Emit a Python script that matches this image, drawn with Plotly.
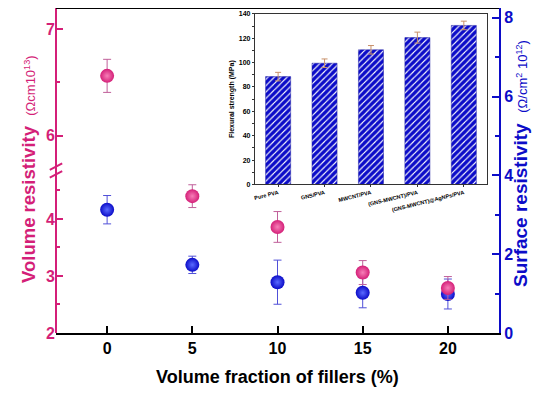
import plotly.graph_objects as go

# ---- data ----
fraction = [0, 5, 10, 15, 20]
vol_res = [6.56, 4.40, 3.86, 3.06, 2.79]
vol_err = [0.155, 0.20, 0.27, 0.21, 0.20]
surf_res = [3.13, 1.73, 1.29, 1.02, 0.99]
surf_err = [0.36, 0.22, 0.56, 0.38, 0.38]

inset_cats = ["Pure PVA", "GNS/PVA", "MWCNT/PVA", "(GNS-MWCNT)/PVA", "(GNS-MWCNT)@AgNPs/PVA"]
flex = [88.5, 99.5, 110.5, 120.5, 130.5]
flex_err = [3.5, 3.5, 3.5, 4.5, 3.5]

PINK = "#d41f78"
BLUE = "#0c0cc8"
FONT = "Liberation Sans, Arial, sans-serif"

fig = go.Figure()

fig.add_trace(go.Bar(
    x=inset_cats, y=flex, xaxis="x2", yaxis="y5", width=0.54,
    marker=dict(color=BLUE, line=dict(color="#2020a0", width=0.5),
                pattern=dict(shape="/", fgcolor="white", bgcolor=BLUE, size=4.5, solidity=0.25)),
    error_y=dict(type="data", array=flex_err, color="#c8906a", thickness=1, width=3),
    showlegend=False))

def sphere(color, light):
    return dict(size=14, color=color, line=dict(width=0),
                gradient=dict(type="radial", color=light))

fig.add_trace(go.Scatter(
    x=fraction[:1], y=vol_res[:1], xaxis="x", yaxis="y4", mode="markers",
    marker=sphere(PINK, "#f77fb8"),
    error_y=dict(type="data", array=vol_err[:1], color="#c0609a", thickness=1, width=4),
    showlegend=False))
fig.add_trace(go.Scatter(
    x=fraction[1:], y=vol_res[1:], xaxis="x", yaxis="y3", mode="markers",
    marker=sphere(PINK, "#f77fb8"),
    error_y=dict(type="data", array=vol_err[1:], color="#c0609a", thickness=1, width=4),
    showlegend=False))
fig.add_trace(go.Scatter(
    x=fraction, y=surf_res, xaxis="x", yaxis="y", mode="markers",
    marker=sphere(BLUE, "#5a6aff"),
    error_y=dict(type="data", array=surf_err, color="#5050d8", thickness=1, width=4),
    showlegend=False))

tickfont_l = dict(family=FONT, size=16, color=PINK, weight="bold")

# The page body has an 8px default margin, so the figure is 8px smaller than the window
fig.update_layout(
    template="none",
    width=542, height=385,
    margin=dict(l=48, r=51, t=0, b=60, autoexpand=False),
    paper_bgcolor="white", plot_bgcolor="rgba(0,0,0,0)",
    font=dict(family=FONT),
    xaxis=dict(range=[-3, 23], tickvals=fraction, ticks="inside", ticklen=7, tickwidth=2,
               tickcolor="black",
               showline=True, linecolor="black", linewidth=2, mirror=False,
               showgrid=False, zeroline=False, anchor="y", automargin=False,
               tickfont=dict(family=FONT, size=16, color="black", weight="bold")),
    yaxis=dict(range=[0, 8.25], side="right", anchor="x", domain=[0, 1], automargin=False,
               tickvals=[0, 2, 4, 6, 8], ticks="inside", ticklen=7, tickwidth=2,
               tickcolor=BLUE, showline=True, linecolor=BLUE, linewidth=2,
               showgrid=False, zeroline=False,
               tickfont=dict(family=FONT, size=16, color=BLUE, weight="bold"),
               minor=dict(ticks="inside", ticklen=4, tickcolor=BLUE, dtick=1, tickwidth=1.5,
                          showgrid=False)),
    yaxis3=dict(range=[2, 4.85], domain=[0, 0.5], anchor="x", side="left", automargin=False,
                tickvals=[2, 3, 4], ticks="inside", ticklen=7, tickwidth=2, tickcolor=PINK,
                showline=False, showgrid=False, zeroline=False, tickfont=tickfont_l,
                minor=dict(ticks="inside", ticklen=4, tickcolor=PINK, dtick=0.5, tickwidth=1.5,
                           showgrid=False)),
    yaxis4=dict(range=[5.673, 7.196], domain=[0.5, 1], anchor="x", side="left", automargin=False,
                tickvals=[6, 7], ticks="inside", ticklen=7, tickwidth=2, tickcolor=PINK,
                showline=False, showgrid=False, zeroline=False, tickfont=tickfont_l,
                minor=dict(ticks="inside", ticklen=4, tickcolor=PINK, dtick=0.5, tickwidth=1.5,
                           showgrid=False)),
    xaxis2=dict(domain=[0.449, 0.973], anchor="y5", range=[-0.5, 4.5], automargin=False,
                showline=True, linecolor="#333", linewidth=1, mirror=True,
                ticks="outside", ticklen=2, tickangle=-14, tickcolor="#333",
                tickfont=dict(family=FONT, size=5.5, color="black", weight="bold"), showgrid=False),
    yaxis5=dict(domain=[0.457, 0.982], anchor="x2", range=[0, 140], dtick=20, automargin=False,
                showline=True, linecolor="#333", linewidth=1, mirror=True,
                ticks="outside", ticklen=2, tickcolor="#333", showgrid=False, zeroline=False,
                tickfont=dict(family=FONT, size=7, color="black", weight="bold"),
                minor=dict(ticks="outside", ticklen=1.5, dtick=10, showgrid=False),
                title=dict(text="<b>Flexural strength (MPa)</b>", standoff=3,
                           font=dict(family=FONT, size=7, color="black"))),
    bargap=0.46,
)

# Left axis line, top frame line and break marks
fig.add_shape(type="line", xref="paper", yref="paper", x0=0, x1=0, y0=0, y1=1,
              line=dict(color=PINK, width=2))
fig.add_shape(type="line", xref="paper", yref="paper", x0=0, x1=1, y0=1, y1=1,
              line=dict(color="black", width=2))
for dy in (-0.012, 0.012):
    fig.add_shape(type="line", xref="paper", yref="paper",
                  x0=-0.014, x1=0.014, y0=0.49 + dy, y1=0.51 + dy,
                  line=dict(color=PINK, width=2))

# titles
fig.add_annotation(xref="paper", yref="paper", x=0.5, y=-0.135, yanchor="middle",
                   text="<b>Volume fraction of fillers (%)</b>", showarrow=False,
                   font=dict(family=FONT, size=18, color="black"))
fig.add_annotation(xref="paper", yref="paper", x=(16 - 56) / 443, y=(333 - 169) / 326,
                   textangle=-90, showarrow=False,
                   text="<b>Volume resistivity</b>  <span style='font-size:13px'>(Ωcm10<sup>13</sup>)</span>",
                   font=dict(family=FONT, size=18.5, color=PINK))
fig.add_annotation(xref="paper", yref="paper", x=(533 - 56) / 443, y=(333 - 163) / 326,
                   textangle=-90, showarrow=False,
                   text="<b>Surface resistivity</b>  <span style='font-size:13px'>(Ω/cm<sup>2</sup> 10<sup>12</sup>)</span>",
                   font=dict(family=FONT, size=19, color=BLUE))

fig.write_html("out.html")
